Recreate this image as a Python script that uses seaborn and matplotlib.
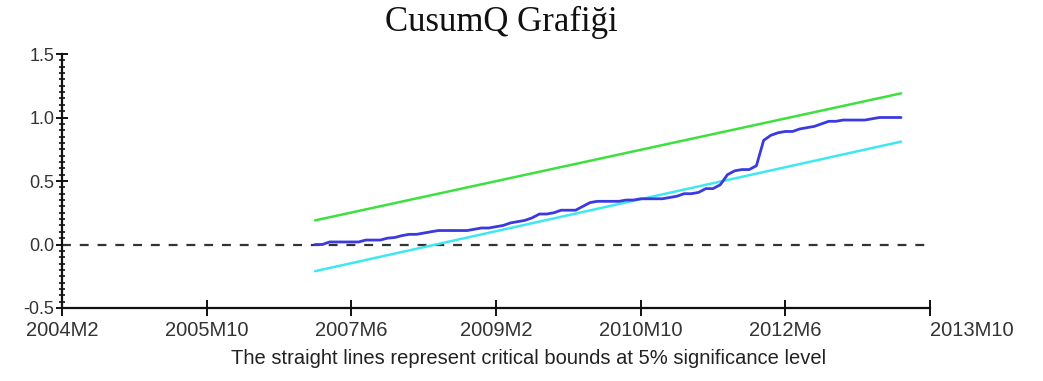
import matplotlib
matplotlib.use("Agg")
import matplotlib.pyplot as plt
import seaborn as sns
import pandas as pd
import numpy as np
from matplotlib.ticker import MultipleLocator

# ---- data ----
tick_pos = [0, 20, 40, 60, 80, 100, 120]
tick_labels = ["2004M2", "2005M10", "2007M6", "2009M2", "2010M10", "2012M6", "2013M10"]

month_idx = list(range(35, 117))
cusumsq = [0.00, 0.00, 0.02, 0.02, 0.02, 0.02, 0.02, 0.035, 0.035, 0.035,
           0.05, 0.055, 0.07, 0.08, 0.08, 0.09, 0.10, 0.11, 0.11, 0.11,
           0.11, 0.11, 0.12, 0.13, 0.13, 0.14, 0.15, 0.17, 0.18, 0.19,
           0.21, 0.24, 0.24, 0.25, 0.27, 0.27, 0.27, 0.30, 0.33, 0.34,
           0.34, 0.34, 0.34, 0.35, 0.35, 0.36, 0.36, 0.36, 0.36, 0.37,
           0.38, 0.40, 0.40, 0.41, 0.44, 0.44, 0.47, 0.55, 0.58, 0.59,
           0.59, 0.62, 0.82, 0.86, 0.88, 0.89, 0.89, 0.91, 0.92, 0.93,
           0.95, 0.97, 0.97, 0.98, 0.98, 0.98, 0.98, 0.99, 1.00, 1.00,
           1.00, 1.00]

bound_x = [35, 116]
upper_bound = [0.19, 1.19]
lower_bound = [-0.21, 0.81]

# ---- plot ----
sns.set_style("ticks")
plt.rcParams['font.family'] = ['Liberation Sans', 'DejaVu Sans']

fig = plt.figure(figsize=(10.43, 3.81), dpi=100)
ax = fig.add_axes([62/1043, 1 - 308/381, (930 - 62)/1043, (308 - 54)/381])

df = pd.DataFrame({"m": month_idx, "v": cusumsq})
bdf = pd.DataFrame({"m": bound_x, "up": upper_bound, "lo": lower_bound})

ax.axhline(0, color="#333333", lw=1.6, ls=(0, (4, 4)), zorder=1)
sns.lineplot(data=bdf, x="m", y="up", ax=ax, color="#3ee03e", lw=1.8)
sns.lineplot(data=bdf, x="m", y="lo", ax=ax, color="#3ee8f0", lw=1.8)
sns.lineplot(data=df, x="m", y="v", ax=ax, color="#3a3ae0", lw=2.0)

ax.set_xlim(0, 120)
ax.set_ylim(-0.5, 1.5)
ax.set_xticks(tick_pos)
ax.set_xticklabels(tick_labels)
ax.set_yticks([-0.5, 0.0, 0.5, 1.0, 1.5])
ax.set_yticklabels(["-0.5", "0.0", "0.5", "1.0", "1.5"])
ax.yaxis.set_minor_locator(MultipleLocator(0.05))

for s in ["top", "right"]:
    ax.spines[s].set_visible(False)
for s in ["left", "bottom"]:
    ax.spines[s].set_color("#111111")
    ax.spines[s].set_linewidth(1.6)

ax.tick_params(axis="x", direction="inout", length=12, width=1.4, colors="#111111",
               labelcolor="#333333", labelsize=14.5, pad=3)
ax.tick_params(axis="y", which="major", direction="inout", length=9, width=1.4,
               colors="#111111", labelcolor="#333333", labelsize=13, pad=1)
ax.tick_params(axis="y", which="minor", direction="inout", length=5, width=1.2,
               colors="#111111")

lbls = ax.get_xticklabels()
lbls[-1].set_horizontalalignment("left")

ax.set_xlabel("The straight lines represent critical bounds at 5% significance level",
              fontsize=14.5, color="#222222")
ax.xaxis.set_label_coords(0.538, -0.16)
ax.set_ylabel("")
fig.text(501/1043, 1 - 22/381, "CusumQ Grafiği", ha="center", va="center",
         fontsize=25, family=["Liberation Serif", "DejaVu Serif"], color="#111111")

fig.savefig("out.png", dpi=100)
